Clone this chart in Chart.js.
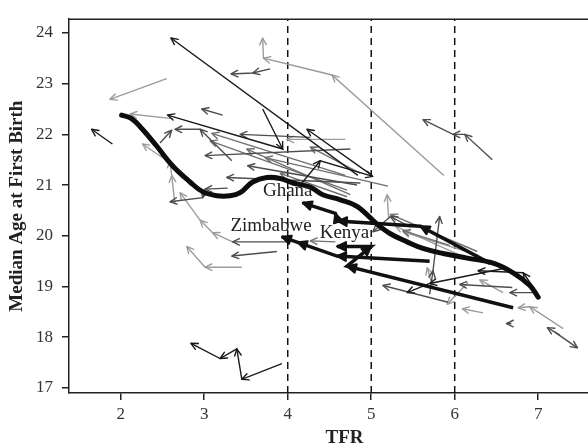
<!DOCTYPE html>
<html>
<head>
<meta charset="utf-8">
<script src="https://cdn.jsdelivr.net/npm/chart.js@4.4.1/dist/chart.umd.min.js"></script>
<style>
  html, body { margin: 0; padding: 0; background: #fff; overflow: hidden; }
</style>
</head>
<body>
<canvas id="chart" width="620" height="448"></canvas>
<script>
const xTicks = [2, 3, 4, 5, 6, 7];
const yTicks = [17, 18, 19, 20, 21, 22, 23, 24];
const refLines = [4, 5, 6];

// smoothed fit of age at first birth on TFR
const trendX = [2.01, 2.13, 2.26, 2.43, 2.62, 2.83, 2.98, 3.15, 3.31, 3.43, 3.58, 3.75, 3.91, 4.06,
                4.27, 4.42, 4.63, 4.83, 5.07, 5.23, 5.43, 5.62, 5.86, 6.15, 6.46, 6.70, 6.90, 7.00];
const trendY = [22.38, 22.31, 22.10, 21.77, 21.38, 21.06, 20.87, 20.79, 20.79, 20.85, 21.06, 21.15, 21.13, 21.04,
                20.96, 20.81, 20.71, 20.58, 20.23, 20.04, 19.88, 19.75, 19.65, 19.56, 19.46, 19.27, 19.02, 18.79];

// survey trajectories per country: [TFR, median age], oldest survey first
const boldTracks = [
  [[6.42, 19.46], [5.59, 20.19], [4.60, 20.29], [4.57, 20.44], [4.18, 20.65]],   // Ghana
  [[5.70, 19.50], [4.59, 19.60], [4.12, 19.87], [3.93, 19.98]],                  // Zimbabwe
  [[6.70, 18.58], [4.71, 19.40], [5.00, 19.79], [4.59, 19.79]]                   // Kenya
];
const blackTracks = [
  [[1.90, 21.81], [1.65, 22.10]],
  [[3.93, 17.48], [3.45, 17.17], [3.39, 17.77], [3.19, 17.58], [2.84, 17.88]],
  [[4.84, 21.19], [2.60, 23.90]],
  [[3.70, 22.50], [3.94, 21.71], [2.56, 22.38]],
  [[5.01, 21.19], [4.23, 22.10]],
  [[4.17, 21.04], [4.39, 21.48], [5.02, 21.17]],
  [[6.63, 19.37], [5.70, 19.06], [5.43, 18.88]],
  [[7.00, 18.85], [6.82, 19.27], [6.28, 19.31]]
];
const darkTracks = [
  [[3.79, 23.29], [3.58, 23.21], [3.32, 23.19]],
  [[6.45, 21.50], [6.12, 22.00], [5.98, 22.00], [5.62, 22.29]],
  [[3.22, 22.38], [2.97, 22.50]],
  [[3.33, 21.48], [2.95, 22.10], [2.65, 22.10]],
  [[2.47, 21.83], [2.61, 22.08]],
  [[4.75, 21.71], [3.01, 21.58]],
  [[4.27, 21.94], [3.43, 22.00]],
  [[3.28, 20.94], [3.01, 20.92], [2.98, 20.75], [2.59, 20.67]],
  [[3.99, 19.88], [3.34, 19.88]],
  [[3.87, 19.69], [3.33, 19.60]],
  [[6.99, 18.88], [6.66, 18.88]],
  [[6.69, 18.98], [6.06, 19.04]],
  [[5.92, 18.69], [5.14, 19.02]],
  [[7.26, 18.04], [7.11, 18.19]],
  [[7.20, 18.10], [7.47, 17.79]],
  [[6.68, 18.27], [6.62, 18.27]],
  [[5.70, 18.85], [5.74, 19.31], [5.82, 20.38]],
  [[5.47, 20.17], [5.23, 20.38], [5.02, 20.08]],
  [[4.83, 21.00], [3.52, 21.38]],
  [[4.87, 21.04], [3.27, 21.15]]
];
const greyTracks = [
  [[4.75, 20.81], [3.51, 21.71]],
  [[5.20, 20.98], [3.73, 21.54]],
  [[4.69, 21.19], [3.09, 22.02]],
  [[5.94, 19.81], [5.38, 20.10]],
  [[6.27, 19.69], [5.23, 20.42]],
  [[4.71, 20.77], [3.91, 21.23]],
  [[4.57, 19.88], [4.27, 19.90]],
  [[4.87, 21.23], [4.27, 21.75]],
  [[4.71, 20.90], [3.07, 21.87]]
];
const lightTracks = [
  [[2.55, 23.10], [1.87, 22.69]],
  [[5.87, 21.19], [4.53, 23.17], [3.71, 23.50], [3.70, 23.90]],
  [[2.62, 22.31], [2.11, 22.40]],
  [[2.59, 21.44], [2.26, 21.81]],
  [[2.65, 20.62], [2.61, 21.19], [2.59, 21.48]],
  [[3.34, 19.88], [3.10, 20.06], [2.95, 20.31], [2.71, 20.85]],
  [[3.45, 19.38], [3.01, 19.38], [2.79, 19.79]],
  [[4.69, 21.90], [3.99, 21.90]],
  [[5.21, 20.33], [5.19, 20.81]],
  [[6.34, 18.48], [6.09, 18.56]],
  [[6.58, 18.88], [6.30, 19.13]],
  [[6.16, 19.08], [5.91, 18.65]],
  [[7.30, 18.17], [6.90, 18.60], [6.76, 18.58]],
  [[5.74, 18.98], [5.67, 19.37]],
  [[6.06, 19.62], [5.29, 20.19]],
  [[6.28, 19.62], [5.38, 20.08]]
];

const countryNames = ['Ghana', 'Zimbabwe', 'Kenya'];
const countryLabelX = [4.00, 3.80, 4.68];
const countryLabelY = [20.78, 20.10, 19.96];

const X_MIN = 1.38, X_MAX = 7.98;
const Y_MIN = 16.9, Y_MAX = 24.27;
const SERIF = '"Liberation Serif", "DejaVu Serif", serif';

function trackSets(tracks, color, width) {
    return tracks.map(t => ({
        data: t.map(([x, y]) => ({ x, y })),
        showLine: true,
        borderColor: color,
        borderWidth: width,
        pointRadius: 0,
        fill: false,
        arrows: true
    }));
}

const datasets = [
    {
        data: trendX.map((x, i) => ({ x, y: trendY[i] })),
        showLine: true,
        borderColor: '#0d0d0d',
        borderWidth: 5,
        borderCapStyle: 'round',
        pointRadius: 0,
        tension: 0.4,
        fill: false
    },
    ...trackSets(boldTracks, '#111', 3.5),
    ...trackSets(blackTracks, '#1a1a1a', 1.4),
    ...trackSets(darkTracks, '#4d4d4d', 1.4),
    ...trackSets(greyTracks, '#707070', 1.4),
    ...trackSets(lightTracks, '#9c9c9c', 1.4),
    ...refLines.map(v => ({
        data: [{ x: v, y: Y_MIN }, { x: v, y: Y_MAX }],
        showLine: true,
        borderColor: '#111',
        borderWidth: 1.5,
        borderDash: [7, 5],
        pointRadius: 0
    }))
];

// arrow heads at every survey after the first (filled for the highlighted countries)
const arrowHeads = {
    id: 'arrowHeads',
    afterDatasetDraw(chart, args) {
        const ds = chart.data.datasets[args.index];
        if (!ds.arrows) return;
        const pts = args.meta.data;
        const ctx = chart.ctx;
        const bold = ds.borderWidth > 2;
        const len = bold ? 10 : 7.5;
        const spread = bold ? 0.45 : 0.45;
        ctx.save();
        ctx.strokeStyle = ds.borderColor;
        ctx.fillStyle = ds.borderColor;
        ctx.lineWidth = bold ? 2 : ds.borderWidth;
        ctx.lineCap = 'round';
        ctx.lineJoin = 'round';
        for (let i = 1; i < pts.length; i++) {
            const a = pts[i - 1], b = pts[i];
            const ang = Math.atan2(b.y - a.y, b.x - a.x);
            ctx.beginPath();
            ctx.moveTo(b.x - len * Math.cos(ang - spread), b.y - len * Math.sin(ang - spread));
            ctx.lineTo(b.x, b.y);
            ctx.lineTo(b.x - len * Math.cos(ang + spread), b.y - len * Math.sin(ang + spread));
            if (bold) {
                ctx.closePath();
                ctx.fill();
            }
            ctx.stroke();
        }
        ctx.restore();
    }
};

const frameAndLabels = {
    id: 'frameAndLabels',
    afterDraw(chart) {
        const { ctx, chartArea, scales } = chart;
        ctx.save();
        ctx.strokeStyle = '#222';
        ctx.lineWidth = 1.5;
        ctx.beginPath();
        ctx.moveTo(chartArea.left, chartArea.top);
        ctx.lineTo(chartArea.right, chartArea.top);
        ctx.stroke();

        ctx.fillStyle = '#222';
        ctx.font = '19px ' + SERIF;
        ctx.textAlign = 'center';
        ctx.textBaseline = 'alphabetic';
        countryNames.forEach((name, i) => {
            ctx.fillText(name, scales.x.getPixelForValue(countryLabelX[i]), scales.y.getPixelForValue(countryLabelY[i]));
        });
        ctx.restore();
    }
};

new Chart(document.getElementById('chart'), {
    type: 'scatter',
    data: { datasets },
    plugins: [arrowHeads, frameAndLabels],
    options: {
        responsive: false,
        animation: false,
        layout: { padding: { top: 10, right: 0, bottom: 0, left: 0 } },
        plugins: { legend: { display: false }, tooltip: { enabled: false } },
        scales: {
            x: {
                type: 'linear',
                min: X_MIN,
                max: X_MAX,
                afterFit: s => { s.height = 55; },
                afterBuildTicks: s => { s.ticks = xTicks.map(v => ({ value: v })); },
                ticks: { color: '#333', font: { family: SERIF, size: 17 }, padding: 4 },
                grid: { drawOnChartArea: false, drawTicks: true, tickLength: 7, color: '#222', lineWidth: 1.5 },
                border: { display: true, color: '#222', width: 1.5 },
                title: { display: true, text: 'TFR', color: '#222',
                         font: { family: SERIF, size: 19, weight: 'bold', lineHeight: 1 }, padding: { top: 0, bottom: 0 } }
            },
            y: {
                type: 'linear',
                min: Y_MIN,
                max: Y_MAX,
                afterFit: s => { s.width = 69; },
                afterBuildTicks: s => { s.ticks = yTicks.map(v => ({ value: v })); },
                ticks: { color: '#333', font: { family: SERIF, size: 17 }, padding: 9 },
                grid: { drawOnChartArea: false, drawTicks: true, tickLength: 7, color: '#222', lineWidth: 1.5 },
                border: { display: true, color: '#222', width: 1.5 },
                title: { display: true, text: 'Median Age at First Birth', color: '#222',
                         font: { family: SERIF, size: 19, weight: 'bold', lineHeight: 1 }, padding: { top: 8, bottom: 0 } }
            }
        }
    }
});
</script>
</body>
</html>
